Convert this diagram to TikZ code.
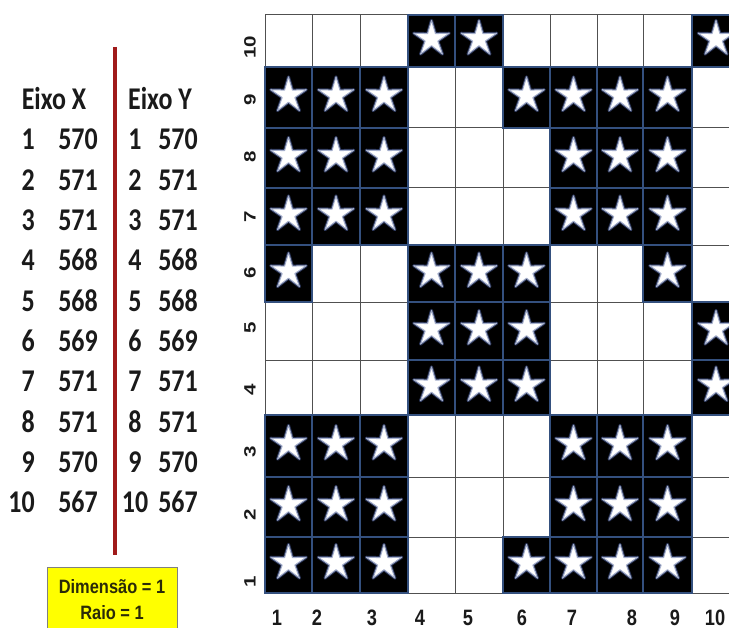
\documentclass[tikz,border=0pt]{standalone}
\usepackage{fontspec}
\usetikzlibrary{shapes.geometric}
\newfontfamily\tabfont[FakeStretch=0.82]{Carlito}
\newfontfamily\axfont[FakeStretch=0.82]{Liberation Sans}
\newfontfamily\ylfont{Liberation Sans}
\newfontfamily\boxfont[FakeStretch=0.85]{Liberation Sans}
\definecolor{txtcol}{HTML}{1A1A1A}
\definecolor{redline}{HTML}{A01A1A}
\definecolor{gridcol}{HTML}{505050}
\definecolor{navy}{HTML}{34507E}
\definecolor{glowout}{HTML}{2A3558}
\definecolor{glowmid}{HTML}{A4AECB}
\definecolor{boxyellow}{HTML}{FFFF00}
\definecolor{boxtext}{HTML}{2A2A08}
\begin{document}
\begin{tikzpicture}[x=0.3mm,y=-0.3mm,
  tab/.style={font=\tabfont\bfseries\fontsize{27}{30}\selectfont, text=txtcol, inner sep=0},
  axlab/.style={font=\axfont\bfseries\fontsize{19}{22}\selectfont, text=txtcol, inner sep=0, anchor=base},
  ylab/.style={font=\ylfont\bfseries\fontsize{14}{16}\selectfont, text=txtcol, inner sep=0, rotate=90},
  gridline/.style={draw=gridcol, line width=0.3mm},
  cellfill/.style={fill=black, draw=navy, line width=0.5mm},
  starw/.style={star, star points=5, star point ratio=2.8, minimum size=11.2mm, inner sep=0,
    fill=white, draw=glowmid, line width=0.3mm, line join=round,
    preaction={draw=glowout, line width=0.9mm, line join=round}},
  ybox/.style={draw=gray, line width=0.3mm, fill=boxyellow, minimum width=39mm, minimum height=19.5mm, inner sep=0},
  boxtxt/.style={font=\boxfont\bfseries\fontsize{16.5}{21.5}\selectfont, text=boxtext, align=center, inner sep=0},
  redbar/.style={draw=redline, line width=1.2mm}
]
\useasboundingbox (0,0) rectangle (729,628);
\fill[white] (0,0) rectangle (729,628);

% ---- table ----
\node[tab, anchor=base] (hx) at (54,110) {Eixo X};
\node[tab, anchor=base] (hy) at (160,110) {Eixo Y};
\foreach \v [count=\i] in {570,571,571,568,568,569,571,571,570,567} {
  \pgfmathsetmacro{\yy}{140+40.3*(\i-1)+10}
  \node[tab, anchor=base east] (xi\i) at (35,\yy) {\i};
  \node[tab, anchor=base east] (xv\i) at (98,\yy) {\v};
  \node[tab, anchor=base] (yi\i) at (135,\yy) {\i};
  \node[tab, anchor=base east] (yv\i) at (198,\yy) {\v};
}
\coordinate (rtop) at (115,47);
\coordinate (rbot) at (115,555);
\draw[redbar] (rtop) -- (rbot);

% ---- yellow box ----
\node[ybox] (box) at (112,599.5) {};
\node[boxtxt] (boxt) at (112,599.5) {Dimensão = 1\\Raio = 1};

% ---- grid ----
\def\xsarr{{265,312,360,408,455,503,550,597,643,692,740}}
\def\ybarr{{593,537,477,415,360,302,245,188,128,67,15}}
\begin{scope}
\clip (0,0) rectangle (729,628);
\foreach \xx in {265,312,360,408,455,503,550,597,643,692}
  \draw[gridline] (\xx,15) -- (\xx,593);
\foreach \yy in {593,537,477,415,360,302,245,188,128,67,15}
  \draw[gridline] (265,\yy) -- (740,\yy);
\foreach \r/\cols in {10/{4,5,10},9/{1,2,3,6,7,8,9},8/{1,2,3,7,8,9},7/{1,2,3,7,8,9},
    6/{1,4,5,6,9},5/{4,5,6,10},4/{4,5,6,10},3/{1,2,3,7,8,9},2/{1,2,3,7,8,9},1/{1,2,3,6,7,8,9}} {
  \foreach \c in \cols {
    \pgfmathsetmacro{\xa}{\xsarr[\c-1]}
    \pgfmathsetmacro{\xb}{\xsarr[\c]}
    \pgfmathsetmacro{\ya}{\ybarr[\r-1]}
    \pgfmathsetmacro{\yt}{\ybarr[\r]}
    \draw[cellfill] (\xa,\yt) rectangle (\xb,\ya);
    \node[starw] (s\c-\r) at ({(\xa+\xb)/2},{(\ya+\yt)/2-2}) {};
  }
}
\end{scope}

% ---- axis labels ----
\foreach \xx [count=\i] in {277,317,372,420,468,522,572,632,675,715}
  \node[axlab] (xl\i) at (\xx,625) {\i};
\foreach \yy [count=\i] in {582,515,452,390,328,273,217,157,100,47}
  \node[ylab] (yl\i) at (250,\yy) {\scalebox{1.25}[1]{\i}};
\end{tikzpicture}
\end{document}
